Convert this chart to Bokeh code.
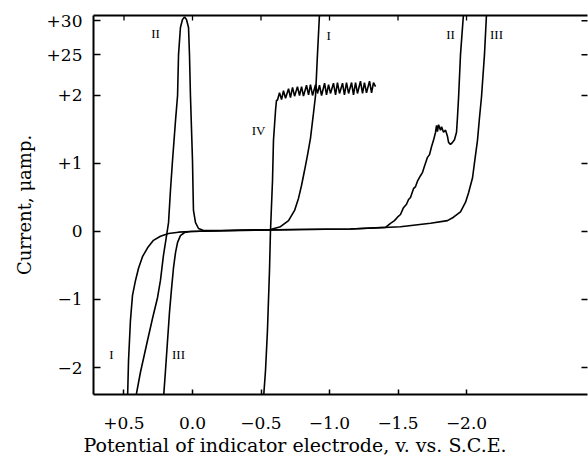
import math
from bokeh.plotting import figure
from bokeh.models import Range1d, FixedTicker, LinearAxis, Title
from bokeh.embed import file_html
from bokeh.resources import INLINE
from bokeh.core.properties import value

# ---------------- data (potential in V vs S.C.E., current in microamp) ----------------
# Curve I
curve1_E = [0.474, 0.467, 0.453, 0.438, 0.416, 0.394, 0.365, 0.328, 0.285, 0.234, 0.175, 0.102, 0.015,
            -0.277, -0.569, -0.642, -0.701, -0.745, -0.774, -0.796, -0.818, -0.839, -0.861, -0.883,
            -0.898, -0.912, -0.927]
curve1_I = [-2.46, -1.90, -1.31, -0.94, -0.72, -0.54, -0.37, -0.24, -0.13, -0.07, -0.03, -0.01, 0.00,
            0.015, 0.03, 0.07, 0.16, 0.31, 0.49, 0.68, 0.90, 1.12, 1.37, 1.74,
            2.00, 25.0, 31.0]

# Curve II
curve2_E = [0.416, 0.380, 0.328, 0.292, 0.255, 0.234, 0.212, 0.190, 0.175, 0.161, 0.146, 0.124, 0.109,
            0.102, 0.088, 0.073, 0.058, 0.044, 0.029, 0.022, 0.015, 0.007, 0.0, -0.004, -0.007,
            -0.022, -0.044, -0.080, -0.277, -0.788, -1.153, -1.409,
            -1.445, -1.474, -1.496, -1.518, -1.540, -1.562, -1.577, -1.591, -1.613, -1.628, -1.642,
            -1.664, -1.679, -1.693, -1.715, -1.730, -1.745, -1.759, -1.774, -1.781, -1.788, -1.796,
            -1.810, -1.818, -1.832, -1.847, -1.861, -1.869, -1.883, -1.898, -1.912, -1.927, -1.934,
            -1.942, -1.956, -1.978]
curve2_I = [-2.46, -2.07, -1.60, -1.28, -0.97, -0.72, -0.35, -0.07, 0.13, 0.60, 1.04, 1.63, 2.00,
            25.0, 29.0, 30.18, 30.54, 30.18, 29.0, 25.0, 2.00, 1.49, 1.04, 0.60, 0.31,
            0.13, 0.044, 0.015, 0.015, 0.03, 0.037, 0.06,
            0.12, 0.16, 0.21, 0.25, 0.35, 0.40, 0.47, 0.50, 0.63, 0.66, 0.74,
            0.82, 0.87, 0.96, 1.09, 1.13, 1.25, 1.34, 1.46, 1.56, 1.47, 1.57,
            1.49, 1.54, 1.46, 1.49, 1.40, 1.31, 1.28, 1.31, 1.35, 1.46, 1.68,
            1.97, 25.0, 31.0]

# Curve III
curve3_E = [0.212, 0.197, 0.182, 0.168, 0.153, 0.139, 0.124, 0.109, 0.088, 0.058, 0.015,
            -0.277, -0.788, -1.153, -1.518, -1.737, -1.861, -1.905, -1.956, -1.993, -2.015,
            -2.044, -2.058, -2.080, -2.095, -2.109, -2.131, -2.146]
curve3_I = [-2.46, -2.04, -1.60, -1.19, -0.84, -0.54, -0.31, -0.16, -0.06, -0.015, 0.0,
            0.015, 0.03, 0.037, 0.07, 0.12, 0.16, 0.21, 0.29, 0.43, 0.57,
            0.79, 1.01, 1.34, 1.68, 1.97, 25.0, 31.0]

# Curve IV (with oscillating limiting current)
curve4_E = [-0.518, -0.533, -0.547, -0.562, -0.569, -0.584, -0.591, -0.606, -0.613,
            -0.620, -0.635, -0.650, -0.664, -0.679, -0.701, -0.715, -0.730, -0.745, -0.766,
            -0.781, -0.796, -0.810, -0.832, -0.847, -0.861, -0.876, -0.898, -0.912, -0.927,
            -0.942, -0.964, -0.978, -0.993, -1.007, -1.029, -1.044, -1.058, -1.073, -1.095,
            -1.109, -1.124, -1.139, -1.161, -1.175, -1.190, -1.204, -1.226, -1.241, -1.255,
            -1.270, -1.292, -1.307, -1.321, -1.336]
curve4_I = [-2.46, -2.04, -1.46, -0.57, 0.0, 0.75, 1.34, 1.78, 1.93,
            1.93, 2.04, 1.94, 2.07, 1.96, 2.10, 1.97, 2.12, 1.99, 2.13,
            2.00, 2.13, 1.99, 2.15, 2.01, 2.16, 2.00, 2.16, 2.03, 2.15,
            2.00, 2.18, 2.01, 2.16, 2.03, 2.18, 2.01, 2.19, 2.03, 2.18,
            2.01, 2.19, 2.03, 2.19, 2.01, 2.19, 2.03, 2.21, 2.03, 2.19,
            2.04, 2.21, 2.04, 2.19, 2.13]

# Curve labels (roman numerals) and their anchor points
label_text = ["II", "I", "IV", "II", "III", "I", "III"]
label_E = [0.270, -0.993, -0.482, -1.883, -2.219, 0.591, 0.102]
label_I = [28.1, 27.8, 1.49, 27.9, 27.9, -1.81, -1.81]

# Axes
x_ticks = [0.5, 0.0, -0.5, -1.0, -1.5, -2.0]
x_tick_labels = ["+0.5", "0.0", "\u22120.5", "\u22121.0", "\u22121.5", "\u22122.0"]
y_ticks = [-2, -1, 0, 1, 2, 25, 30]
y_tick_labels = ["\u22122", "\u22121", "0", "+1", "+2", "+25", "+30"]
x_title = "Potential of indicator electrode, v. vs. S.C.E."
y_title = "Current, \u03bcamp."

# broken current axis: linear up to +2.6, compressed upper segment for +25..+30
BREAK_LOW = 2.6
BREAK_HIGH = 25.0
UPPER_SCALE = 0.1


def axis_pos(i):
    if i <= BREAK_LOW:
        return i
    return BREAK_LOW + max(i - BREAK_HIGH, 0.0) * UPPER_SCALE


FONT = "DejaVu Serif"
X0, X1 = 0.7226, -2.883
Y0, Y1 = -2.397, 3.176

p = figure(width=588, height=457, output_backend="svg", toolbar_location=None,
           x_range=Range1d(X0, X1), y_range=Range1d(Y0, Y1),
           min_border_left=93, min_border_right=1, min_border_top=15, min_border_bottom=63)
p.outline_line_color = None
p.grid.visible = False
p.background_fill_color = "white"
p.border_fill_color = "white"

LINE = dict(line_color="black", line_width=1.6)
for E, I in [(curve1_E, curve1_I), (curve2_E, curve2_I), (curve3_E, curve3_I), (curve4_E, curve4_I)]:
    p.line(E, [axis_pos(v) for v in I], **LINE)

p.text(x=label_E, y=[axis_pos(v) for v in label_I], text=label_text,
       text_font=value("Liberation Serif"), text_font_size="13px",
       text_align="center", text_baseline="middle", text_color="black")

y_disp = [axis_pos(v) for v in y_ticks]
y_over = {v: lab for v, lab in zip(y_disp, y_tick_labels)}
x_over = {v: lab for v, lab in zip(x_ticks, x_tick_labels)}

xa = p.xaxis[0]
xa.ticker = FixedTicker(ticks=x_ticks)
xa.major_label_overrides = x_over
ya = p.yaxis[0]
ya.ticker = FixedTicker(ticks=y_disp)
ya.major_label_overrides = y_over
ya.axis_label = y_title

for ax in (xa, ya):
    ax.axis_line_width = 2
    ax.axis_line_color = "black"
    ax.major_tick_in = 7
    ax.major_tick_out = 0
    ax.major_tick_line_width = 1.5
    ax.minor_tick_line_color = None
    ax.major_label_text_font = FONT
    ax.major_label_text_font_size = "17px"
    ax.major_label_text_color = "black"
    ax.axis_label_text_font = FONT
    ax.axis_label_text_font_size = "18px"
    ax.axis_label_text_font_style = "normal"
    ax.axis_label_text_color = "black"
xa.major_tick_in = 5
xa.major_label_standoff = 22
ya.major_label_standoff = 11
ya.axis_label_standoff = 9

# x-axis title, left-aligned under the plot as in the original
p.add_layout(Title(text=x_title, align="left", offset=-10, standoff=0,
                   text_font=FONT, text_font_size="19px", text_font_style="normal",
                   text_color="black"), "below")

# top frame line (no ticks of its own)
top = LinearAxis(ticker=FixedTicker(ticks=[]), axis_line_width=2, axis_line_color="black",
                 major_tick_line_color=None, minor_tick_line_color=None,
                 major_label_text_font_size="0px")
p.add_layout(top, "above")

# small inward ticks along the top edge and the right edge (frame clips the outer half)
p.scatter(x=x_ticks, y=[Y1] * len(x_ticks), marker="dash", angle=math.pi / 2,
          size=10, line_color="black", line_width=1.3)
p.scatter(x=[X1] * len(y_disp), y=y_disp, marker="dash",
          size=12, line_color="black", line_width=1.5)

open("out.html", "w").write(file_html(p, INLINE))
